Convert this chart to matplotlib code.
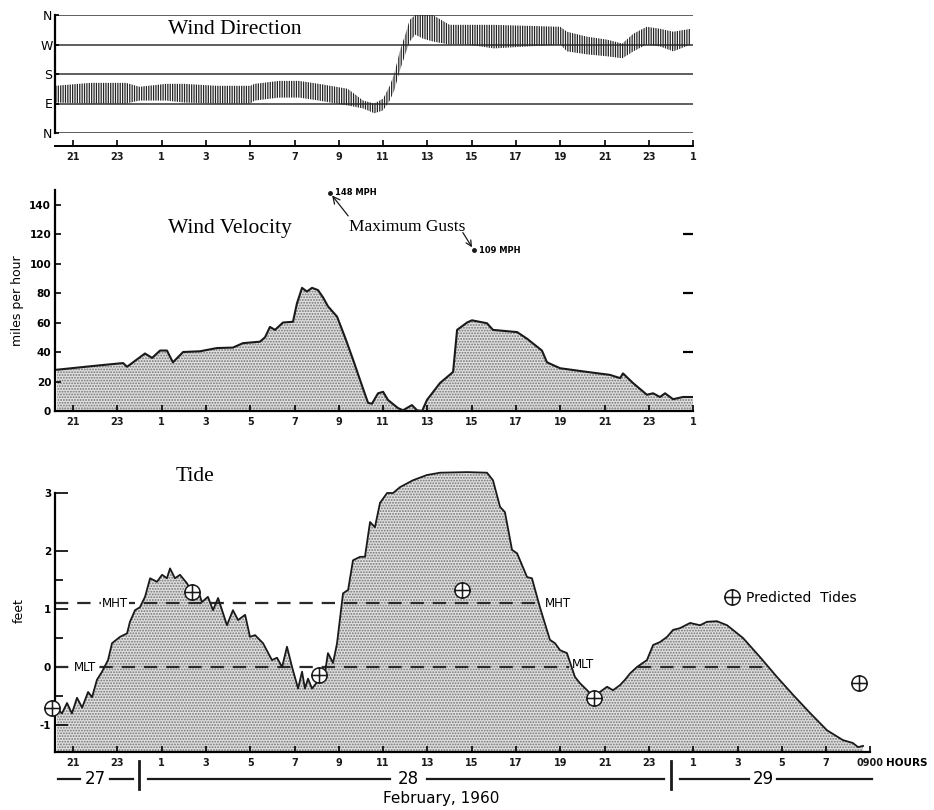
import matplotlib
matplotlib.use("Agg")
import matplotlib.pyplot as plt
from matplotlib.path import Path

# time axis: hours after 2100, 27 Feb 1960
hr_ticks = list(range(0, 29, 2))
hr_labels = ['21', '23', '1', '3', '5', '7', '9', '11', '13', '15', '17', '19', '21', '23', '1']
tide_ticks = list(range(0, 37, 2))
tide_labels = ['21', '23', '1', '3', '5', '7', '9', '11', '13', '15', '17', '19', '21', '23',
               '1', '3', '5', '7', '0900']

# wind direction band, degrees (N=0, E=90, S=180, W=270)
dir_h = [-0.8, 0.8, 2.4, 3.0, 4.2, 5.0, 6.5, 8.0, 8.2, 9.3, 10.2, 11.1, 12.4, 13.1, 13.6,
         14.0, 14.3, 14.5, 14.75, 15.0, 15.2, 15.45, 15.8, 16.25, 17.0, 17.8, 19.0, 22.0,
         22.3, 23.2, 24.1, 24.8, 25.3, 25.9, 26.5, 27.1, 27.9]
dir_lo = [93, 90, 90, 99, 99, 93, 90, 90, 99, 108, 108, 99, 84, 75, 60,
          69, 99, 129, 189, 240, 279, 300, 288, 279, 270, 270, 258, 270,
          249, 240, 234, 228, 249, 270, 264, 249, 270]
dir_hi = [144, 153, 153, 141, 150, 150, 144, 144, 150, 159, 159, 150, 135, 99, 90,
          105, 144, 180, 249, 300, 345, 360, 360, 360, 330, 330, 330, 324,
          309, 294, 285, 273, 303, 324, 318, 309, 318]

# wind velocity, mph
vel_h = [-0.72, 1.22, 2.26, 2.44, 2.71, 3.25, 3.57, 3.93, 4.24, 4.51, 4.97, 5.73, 6.50,
         7.22, 7.67, 8.44, 8.67, 8.89, 9.12, 9.48, 9.93, 10.11, 10.34, 10.56, 10.79,
         11.06, 11.29, 11.51, 11.92, 12.28, 12.64, 12.96, 13.32, 13.50, 13.77, 14.00,
         14.22, 14.67, 14.90, 15.30, 15.53, 15.76, 15.98, 16.57, 17.16, 17.34, 17.79,
         18.01, 18.69, 18.96, 20.05, 20.50, 21.17, 21.40, 21.99, 23.21, 24.24, 24.70,
         24.83, 25.28, 25.91, 26.19, 26.50, 26.73, 27.09, 27.54, 27.99]
vel_mph = [28, 31, 32.5, 30, 33, 39, 36, 41, 41, 33, 40, 40.5, 42.7,
           43, 46, 47, 50, 57, 55, 60, 60.5, 73, 83.5, 81, 83.5,
           82, 77, 71, 64, 50, 35, 21, 5.5, 5, 12, 13,
           7.5, 2, 0.5, 4, 0.5, 0, 7.5, 19, 26.5, 55, 60,
           61.5, 59.5, 55, 53.5, 49, 41, 33, 29, 26.5, 24.5, 22.3,
           25.5, 19, 11, 12, 9.5, 12, 8, 9.5, 9.5]
gust_h = [11.6, 18.1]
gust_mph = [148, 109]

# observed tide, feet
tide_h = [-0.72, -0.50, -0.27, -0.05, 0.18, 0.41, 0.68, 0.86, 1.08, 1.31, 1.58, 1.76, 2.12,
          2.44, 2.57, 2.80, 3.02, 3.25, 3.48, 3.79, 4.02, 4.24, 4.38, 4.60, 4.83, 5.15,
          5.37, 5.60, 5.82, 6.09, 6.32, 6.55, 6.95, 7.22, 7.45, 7.77, 7.99, 8.22, 8.58,
          8.98, 9.21, 9.44, 9.66, 9.89, 10.16, 10.34, 10.47, 10.61, 10.79, 11.02, 11.38,
          11.51, 11.74, 11.92, 12.19, 12.42, 12.64, 12.96, 13.18, 13.41, 13.63, 13.86,
          14.18, 14.45, 14.76, 15.35, 15.98, 16.57, 17.79, 18.69, 18.96, 19.28, 19.50,
          19.82, 20.05, 20.50, 20.72, 21.08, 21.53, 21.76, 21.99, 22.30, 22.66, 22.89,
          23.21, 23.48, 23.79, 24.11, 24.38, 24.70, 24.92, 25.15, 25.46, 25.91, 26.19,
          26.50, 26.82, 27.09, 27.40, 27.86, 28.31, 28.62, 29.07, 29.53, 30.25, 31.02,
          31.78, 32.51, 33.27, 34.04, 34.76, 35.21, 35.44, 35.67]
tide_ft = [-0.71, -0.80, -0.62, -0.80, -0.53, -0.70, -0.43, -0.52, -0.22, -0.08, 0.12, 0.41, 0.52,
           0.58, 0.78, 0.98, 1.03, 1.21, 1.53, 1.47, 1.59, 1.53, 1.70, 1.53, 1.59, 1.44,
           1.30, 1.38, 1.12, 1.21, 0.98, 1.19, 0.72, 0.98, 0.81, 0.90, 0.52, 0.55, 0.41,
           0.12, 0.16, 0.00, 0.35, 0.00, -0.37, -0.08, -0.37, -0.20, -0.37, -0.26, -0.08,
           0.24, 0.07, 0.41, 1.27, 1.33, 1.84, 1.90, 1.90, 2.50, 2.41, 2.83,
           3.00, 3.00, 3.10, 3.22, 3.31, 3.35, 3.36, 3.35, 3.22, 2.76, 2.67,
           2.02, 1.96, 1.55, 1.53, 1.03, 0.47, 0.41, 0.29, 0.24, -0.17, -0.28,
           -0.40, -0.51, -0.43, -0.34, -0.40, -0.31, -0.22, -0.11, 0.00, 0.12, 0.38,
           0.43, 0.52, 0.64, 0.67, 0.76, 0.72, 0.78, 0.79, 0.72, 0.50, 0.17,
           -0.17, -0.48, -0.79, -1.09, -1.26, -1.31, -1.38, -1.36]
pred_h = [-0.95, 5.37, 11.1, 17.55, 23.5, 35.5]
pred_ft = [-0.71, 1.29, -0.14, 1.33, -0.53, -0.28]
mht = 1.1
mlt = 0.0

sans = ['DejaVu Sans']
serif = ['Liberation Serif', 'DejaVu Serif']
ink = '#1a1a1a'
plt.rcParams['font.family'] = sans
plt.rcParams['axes.unicode_minus'] = False
plt.rcParams['hatch.linewidth'] = 0.9

fig = plt.figure(figsize=(9.34, 8.10), dpi=100)
fig.patch.set_facecolor('white')

W, H = 934.0, 810.0
def frame(x0, x1, ytop, ybot):
    return [x0 / W, 1 - ybot / H, (x1 - x0) / W, (ybot - ytop) / H]

tick_font = dict(fontsize=7, fontweight='bold', color=ink)

# ---- wind direction ----
ax1 = fig.add_axes(frame(55.3, 693.2, 15, 133))
ax1.set_xlim(-0.8, 28)
ax1.set_ylim(0, 360)
for v in [0, 90, 180, 270, 360]:
    ax1.axhline(v, color='#333333', lw=1.1, zorder=1)
ax1.fill_between(dir_h, dir_lo, dir_hi, facecolor='none', edgecolor='#222222',
                 hatch='|||||||', linewidth=0, zorder=2)
for s in ['top', 'right']:
    ax1.spines[s].set_visible(False)
ax1.spines['bottom'].set_position(('outward', 9.5))
ax1.spines['left'].set_linewidth(1.6)
ax1.spines['bottom'].set_linewidth(1.4)
ax1.set_yticks([0, 90, 180, 270, 360], ['N', 'E', 'S', 'W', 'N'])
ax1.tick_params(axis='y', direction='in', length=3, width=1.2, labelsize=9, pad=2)
ax1.set_xticks(hr_ticks, hr_labels, **tick_font)
ax1.tick_params(axis='x', direction='in', length=4, width=1.2, pad=4)
ax1.text(7.3, 315, 'Wind Direction', family=serif, fontsize=15.5, ha='center', va='center')

# ---- wind velocity ----
ax2 = fig.add_axes(frame(55.3, 693.2, 189.8, 411))
ax2.set_xlim(-0.8, 28)
ax2.set_ylim(0, 150)
ax2.fill_between(vel_h, 0, vel_mph, facecolor='#e0e0e0', edgecolor='#737373',
                 hatch='......', linewidth=0, zorder=1)
ax2.plot(vel_h, vel_mph, color=ink, lw=1.5, zorder=3)
for s in ['top', 'right']:
    ax2.spines[s].set_visible(False)
ax2.spines['left'].set_linewidth(1.6)
ax2.spines['bottom'].set_linewidth(1.6)
ax2.set_yticks(range(0, 141, 20))
ax2.tick_params(axis='y', direction='in', length=4, width=1.2, labelsize=7.5, pad=3)
for lab in ax2.get_yticklabels():
    lab.set_fontweight('bold')
ax2.set_xticks(hr_ticks, hr_labels, **tick_font)
ax2.tick_params(axis='x', direction='in', length=4, width=1.2, pad=4)
ax2.set_ylabel('miles per hour', fontsize=9, labelpad=4)
rax = ax2.secondary_yaxis('right')
rax.spines['right'].set_visible(False)
rax.set_yticks([40, 80, 120], [])
rax.tick_params(direction='in', length=7, width=1.6)

ax2.text(7.1, 124, 'Wind Velocity', family=serif, fontsize=15.5, ha='center', va='center')
ax2.plot(gust_h, gust_mph, 'o', color=ink, ms=2.5, clip_on=False, zorder=4)
ax2.text(gust_h[0] + 0.25, gust_mph[0], f'{gust_mph[0]} MPH', fontsize=6, fontweight='bold',
         va='center', ha='left')
ax2.text(gust_h[1] + 0.25, gust_mph[1], f'{gust_mph[1]} MPH', fontsize=6, fontweight='bold',
         va='center', ha='left')
arrow = dict(arrowstyle='->', color=ink, lw=0.9, shrinkA=0, shrinkB=2.5)
ax2.annotate('Maximum Gusts', xy=(gust_h[0], gust_mph[0]), xytext=(15.1, 125),
             family=serif, fontsize=12.5, ha='center', va='center',
             arrowprops=dict(arrow, relpos=(0.02, 0.9)))
ax2.annotate('', xy=(gust_h[1], gust_mph[1]), xytext=(17.6, 121), arrowprops=arrow)

# ---- tide ----
ax3 = fig.add_axes(frame(55.3, 870.4, 469.8, 752.3))
ax3.set_xlim(-0.8, 36)
ax3.set_ylim(-1.47, 3.4)
ax3.fill_between(tide_h, -1.47, tide_ft, facecolor='#e0e0e0', edgecolor='#737373',
                 hatch='......', linewidth=0, zorder=1)
ax3.plot(tide_h, tide_ft, color=ink, lw=1.3, zorder=3)

dash = dict(color='#2a2a2a', lw=1.6, dashes=(6, 4), zorder=2)
ax3.plot([-0.8, 21.0], [mht, mht], **dash)
ax3.plot([-0.8, 22.4], [mlt, mlt], **dash)
ax3.plot([25.5, 31.2], [mlt, mlt], **dash)
box = dict(facecolor='white', edgecolor='none', pad=0.6)
ax3.text(1.9, mht, 'MHT', fontsize=8.5, ha='center', va='center', bbox=box, zorder=4)
ax3.text(0.55, mlt, 'MLT', fontsize=8.5, ha='center', va='center', bbox=box, zorder=4)
ax3.text(21.3, mht, 'MHT', fontsize=8.5, ha='left', va='center', zorder=4)
ax3.text(22.5, mlt + 0.05, 'MLT', fontsize=8.5, ha='left', va='center', zorder=4)

tide_mark = Path.make_compound_path(
    Path.unit_circle(),
    Path([[-1, 0], [1, 0], [0, -1], [0, 1]],
         [Path.MOVETO, Path.LINETO, Path.MOVETO, Path.LINETO]))
ax3.plot(pred_h, pred_ft, ls='none', marker=tide_mark, ms=11, mfc='white', mec=ink,
         mew=1.1, clip_on=False, zorder=5, label='Predicted  Tides')
ax3.legend(loc='center left', bbox_to_anchor=(0.822, 0.546), frameon=False, fontsize=10,
           handlelength=1.0, handletextpad=0.5, borderpad=0, borderaxespad=0)

for s in ['top', 'right']:
    ax3.spines[s].set_visible(False)
ax3.spines['left'].set_bounds(-1.47, 3)
ax3.spines['left'].set_linewidth(1.6)
ax3.spines['bottom'].set_linewidth(1.6)
ax3.set_yticks([-1, 0, 1, 2, 3])
ax3.set_yticks([-0.5, 0.5, 1.5], minor=True)
ax3.tick_params(axis='y', which='major', direction='in', length=9, width=1.2,
                labelsize=7.5, pad=3)
ax3.tick_params(axis='y', which='minor', direction='in', length=6, width=1.2)
for lab in ax3.get_yticklabels():
    lab.set_fontweight('bold')
ax3.set_xticks(tide_ticks, tide_labels, **tick_font)
ax3.tick_params(axis='x', direction='in', length=4, width=1.2, pad=4)
ax3.set_ylabel('feet', fontsize=9, labelpad=10)
ax3.text(5.5, 3.28, 'Tide', family=serif, fontsize=15.5, ha='center', va='center')
ax3.text(36.7, -0.039, 'HOURS', transform=ax3.get_xaxis_transform(), fontsize=7.5,
         fontweight='bold', ha='left', va='center')

# day bar below the hour labels
bx = ax3.get_xaxis_transform()
yb = -0.095
for x0, x1 in [(-0.68, 0.32), (1.67, 2.7), (3.4, 14.3), (16.0, 26.7), (27.4, 30.5), (31.8, 36.07)]:
    ax3.plot([x0, x1], [yb, yb], color=ink, lw=1.6, transform=bx, clip_on=False)
for xs in [3.0, 27.0]:
    ax3.plot([xs, xs], [-0.03, -0.13], color=ink, lw=2.0, transform=bx, clip_on=False)
for xd, day in [(1.0, '27'), (15.15, '28'), (31.15, '29')]:
    ax3.text(xd, yb, day, transform=bx, fontsize=12, ha='center', va='center')
ax3.text(16.6, -0.162, 'February, 1960', transform=bx, fontsize=11, ha='center', va='center')

fig.savefig('out.png', dpi=100)
